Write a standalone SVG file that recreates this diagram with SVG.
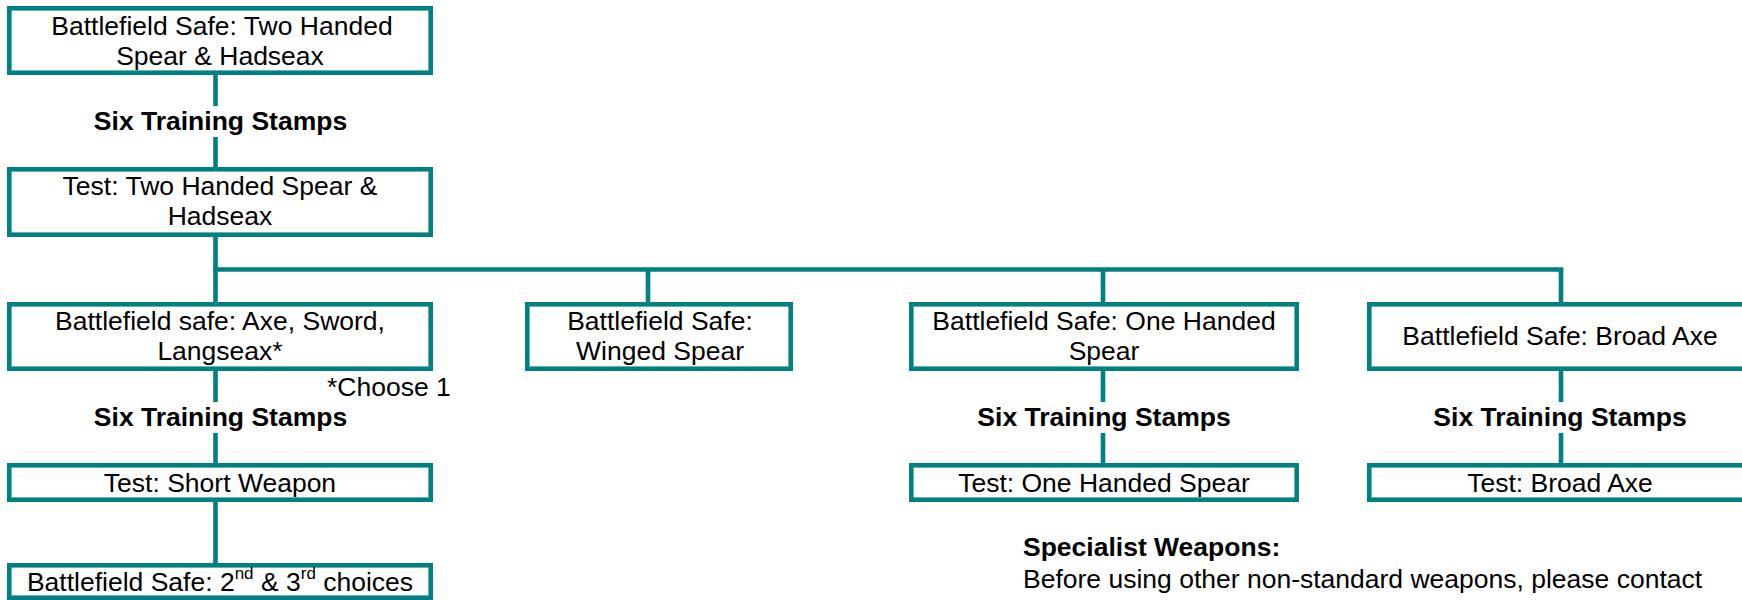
<svg xmlns="http://www.w3.org/2000/svg" width="1742" height="600" viewBox="0 0 1742 600">
<style>
.box{fill:#ffffff;stroke:#008080;stroke-width:4.6}
.ln{stroke:#008080;stroke-width:4.6;fill:none}
text{font-family:"Liberation Sans",Arial,sans-serif;font-size:26.5px;fill:#000000}
.c{text-anchor:middle}
.b{font-weight:bold}
.sup{font-size:17px}
</style>
<rect width="1742" height="600" fill="#ffffff"/>
<g id="connectors">
<line class="ln" x1="215.5" y1="75" x2="215.5" y2="106"/>
<line class="ln" x1="215.5" y1="137" x2="215.5" y2="167"/>
<line class="ln" x1="215.5" y1="237" x2="215.5" y2="302"/>
<line class="ln" x1="213.2" y1="269.5" x2="1563.3" y2="269.5"/>
<line class="ln" x1="648" y1="269.5" x2="648" y2="302"/>
<line class="ln" x1="1103" y1="269.5" x2="1103" y2="302"/>
<line class="ln" x1="1561" y1="269.5" x2="1561" y2="302"/>
<line class="ln" x1="215.5" y1="371" x2="215.5" y2="402"/>
<line class="ln" x1="215.5" y1="433" x2="215.5" y2="463"/>
<line class="ln" x1="215.5" y1="502" x2="215.5" y2="563"/>
<line class="ln" x1="1103" y1="371" x2="1103" y2="402"/>
<line class="ln" x1="1103" y1="433" x2="1103" y2="463"/>
<line class="ln" x1="1561" y1="371" x2="1561" y2="402"/>
<line class="ln" x1="1561" y1="433" x2="1561" y2="463"/>
</g>
<g id="label-stamps-1"><text class="c b" x="220.5" y="130">Six Training Stamps</text></g>
<g id="label-stamps-2"><text class="c b" x="220.5" y="426">Six Training Stamps</text></g>
<g id="label-stamps-3"><text class="c b" x="1104" y="426">Six Training Stamps</text></g>
<g id="label-stamps-4"><text class="c b" x="1560" y="426">Six Training Stamps</text></g>
<g id="n1">
<rect class="box" x="9.3" y="8.3" width="421.4" height="64.4"/>
<text class="c" x="222" y="35">Battlefield Safe: Two Handed</text>
<text class="c" x="220" y="65">Spear &amp; Hadseax</text>
</g>
<g id="n2">
<rect class="box" x="9.3" y="169.3" width="421.4" height="65.4"/>
<text class="c" x="220" y="195">Test: Two Handed Spear &amp;</text>
<text class="c" x="220" y="225">Hadseax</text>
</g>
<g id="n3">
<rect class="box" x="9.3" y="304.3" width="421.4" height="64.4"/>
<text class="c" x="220" y="330">Battlefield safe: Axe, Sword,</text>
<text class="c" x="220" y="360">Langseax*</text>
</g>
<g id="choose-note"><text x="327" y="396">*Choose 1</text></g>
<g id="n4">
<rect class="box" x="527.3" y="304.3" width="263.4" height="64.4"/>
<text class="c" x="660" y="330">Battlefield Safe:</text>
<text class="c" x="660" y="360">Winged Spear</text>
</g>
<g id="n5">
<rect class="box" x="911.3" y="304.3" width="385.4" height="64.4"/>
<text class="c" x="1104" y="330">Battlefield Safe: One Handed</text>
<text class="c" x="1104" y="360">Spear</text>
</g>
<g id="n6">
<rect class="box" x="1369.3" y="304.3" width="385.4" height="64.4"/>
<text class="c" x="1560" y="345">Battlefield Safe: Broad Axe</text>
</g>
<g id="n7">
<rect class="box" x="9.3" y="465.3" width="421.4" height="34.4"/>
<text class="c" x="220" y="492">Test: Short Weapon</text>
</g>
<g id="n8">
<rect class="box" x="911.3" y="465.3" width="385.4" height="34.4"/>
<text class="c" x="1104" y="492">Test: One Handed Spear</text>
</g>
<g id="n9">
<rect class="box" x="1369.3" y="465.3" width="385.4" height="34.4"/>
<text class="c" x="1560" y="492">Test: Broad Axe</text>
</g>
<g id="n10">
<rect class="box" x="9.3" y="565.3" width="421.4" height="32.4"/>
<text class="c" x="220" y="591">Battlefield Safe: 2<tspan class="sup" dy="-12">nd</tspan><tspan dy="12"> &amp; 3</tspan><tspan class="sup" dy="-12">rd</tspan><tspan dy="12"> choices</tspan></text>
</g>
<g id="specialist">
<text class="b" x="1023" y="556">Specialist Weapons:</text>
<text x="1023" y="588">Before using other non-standard weapons, please contact</text>
</g>
</svg>
